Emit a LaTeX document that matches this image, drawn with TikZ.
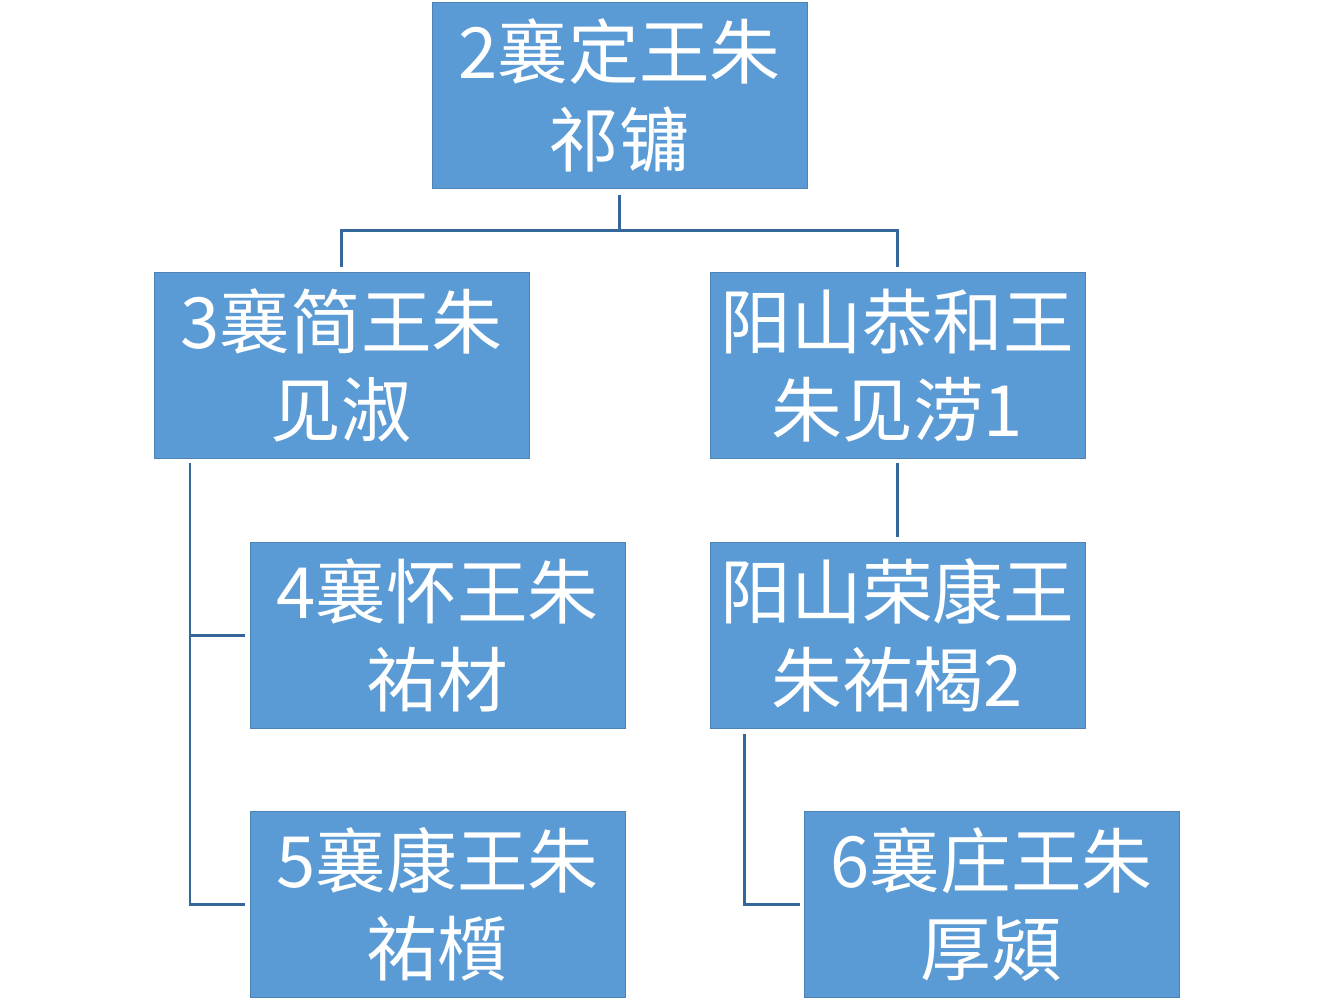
\documentclass[tikz,border=0pt]{standalone}
\usepackage{fontspec}
\setmainfont{Noto Sans CJK SC}
\usetikzlibrary{calc}
\definecolor{boxBlue}{HTML}{5B9BD5}
\definecolor{lineBlue}{HTML}{35679A}

\begin{document}
\begin{tikzpicture}[x=0.75pt, y=-0.75pt,
    prince/.style={fill=boxBlue, draw=boxBlue!85!black, line width=0.4pt, text=white,
      minimum width=281pt, minimum height=139.5pt, align=center, inner sep=0pt,
      font=\fontsize{53}{66}\selectfont},
    link/.style={draw=lineBlue, line width=2pt}]
    \useasboundingbox (0,0) rectangle (1334,1000);
    % the boxes
    \node[prince] (xd) at (619.5,95) {2襄定王朱\\祁镛};
    \node[prince] (xj) at (341.5,365.5) {3襄简王朱\\见淑};
    \node[prince] (yg) at (897.5,365.5) {阳山恭和王\\朱见涝1};
    \node[prince] (xh) at (437.5,635.5) {4襄怀王朱\\祐材};
    \node[prince] (yr) at (897.5,635.5) {阳山荣康王\\朱祐楬2};
    \node[prince] (xk) at (437.5,904.5) {5襄康王朱\\祐櫍};
    \node[prince] (xz) at (991.5,904.5) {6襄庄王朱\\厚熲};
    % the lines
    \draw[link, shorten <=5pt, shorten >=4pt] (xd.south) -- ++(0,42) -| (xj.north);
    \draw[link, shorten <=5pt, shorten >=4pt] (xd.south) -- ++(0,42) -| (yg.north);
    \draw[link] ([xshift=27pt,yshift=-3pt]xj.south west) |- ([xshift=-4pt]xh.west);
    \draw[link] ([xshift=27pt,yshift=-3pt]xj.south west) |- ([xshift=-4pt]xk.west);
    \draw[link, shorten <=3pt, shorten >=4pt] (yg.south) -- (yr.north);
    \draw[link] ([xshift=26pt,yshift=-4pt]yr.south west) |- ([xshift=-3pt]xz.west);
\end{tikzpicture}
\end{document}
